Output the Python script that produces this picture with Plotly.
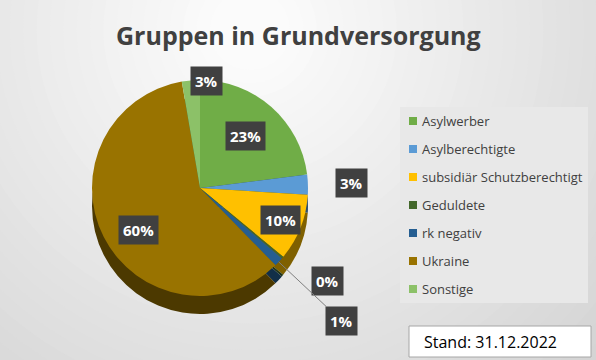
import math
import plotly.graph_objects as go

# ---------------- data ----------------
categories = ["Asylwerber", "Asylberechtigte", "subsidiär Schutzberechtigt",
              "Geduldete", "rk negativ", "Ukraine", "Sonstige"]
values = [23.0, 3.0, 10.0, 0.3, 1.4, 59.6, 2.7]
title_text = "Gruppen in Grundversorgung"
stand_text = "Stand: 31.12.2022"

# ---------------- style ----------------
colors = ["#70AD47", "#5B9BD5", "#FFC000", "#43682B", "#255E91", "#997300", "#8CC168"]
label_radius = [0.64, 1.40, 0.80, 1.55, 1.80, 0.85, 1.13]   # label distance factors
W, H = 596, 360
cx, cy, R = 200, 188, 108
depth = 18
FONT = "Open Sans"


def darken(hexc, f):
    hexc = hexc.lstrip("#")
    r, g, b = (int(hexc[i:i + 2], 16) for i in (0, 2, 4))
    return "#%02x%02x%02x" % (int(r * f), int(g * f), int(b * f))


def px(x):
    return x / W


def py(y):
    return 1 - y / H


fig = go.Figure()

# side (depth) of the pie
fig.add_trace(go.Pie(
    labels=categories, values=values, sort=False, direction="clockwise", rotation=0,
    marker=dict(colors=[darken(c, 0.5) for c in colors], line=dict(width=0)),
    textinfo="none", hoverinfo="skip", showlegend=False,
    domain=dict(x=[px(cx - R), px(cx + R)], y=[py(cy + depth + R), py(cy + depth - R)]),
))
# top face
fig.add_trace(go.Pie(
    labels=categories, values=values, sort=False, direction="clockwise", rotation=0,
    marker=dict(colors=colors, line=dict(width=0)),
    textinfo="none", showlegend=False,
    domain=dict(x=[px(cx - R), px(cx + R)], y=[py(cy + R), py(cy - R)]),
))

shapes = []
annotations = []

# radial background gradient
n = 40
gx, gy = 250, 30
for i in range(n):
    t = 1 - i / (n - 1)
    rad = 40 + 520 * t
    v = int(round(251 - (251 - 205) * t))
    col = "#%02x%02x%02x" % (v, v, v)
    shapes.append(dict(type="circle", xref="paper", yref="paper", layer="below",
                       x0=px(gx - rad), x1=px(gx + rad), y0=py(gy + rad), y1=py(gy - rad),
                       fillcolor=col, line=dict(width=0)))

# data labels
total = sum(values)
cum = 0
for i, v in enumerate(values):
    theta = math.radians(360 * (cum + v / 2) / total)
    cum += v
    k = label_radius[i]
    lx = cx + k * R * math.sin(theta)
    ly = cy - k * R * math.cos(theta)
    txt = "<b>%d%%</b>" % round(100 * v / total)
    common = dict(text=txt, font=dict(family=FONT, size=15, color="white"),
                  bgcolor="#404040", borderpad=4, xref="paper", yref="paper")
    if k > 1.6:
        ex = cx + R * math.sin(theta)
        ey = cy - R * math.cos(theta)
        annotations.append(dict(x=px(ex), y=py(ey), ax=lx - ex, ay=ly - ey,
                                showarrow=True, arrowhead=0, arrowwidth=1,
                                arrowcolor="#7f7f7f", **common))
    else:
        annotations.append(dict(x=px(lx), y=py(ly), showarrow=False, **common))

# legend box
shapes.append(dict(type="rect", xref="paper", yref="paper", layer="below",
                   x0=px(400), x1=px(588), y0=py(303), y1=py(107),
                   fillcolor="#e8e8e8", line=dict(width=0)))
for i, (cat, col) in enumerate(zip(categories, colors)):
    yc = 121 + 28 * i
    shapes.append(dict(type="rect", xref="paper", yref="paper",
                       x0=px(409), x1=px(417), y0=py(yc + 4), y1=py(yc - 4),
                       fillcolor=col, line=dict(width=0)))
    annotations.append(dict(x=px(420), y=py(yc), xref="paper", yref="paper",
                            xanchor="left", yanchor="middle", showarrow=False,
                            text=cat, font=dict(family=FONT, size=13, color="#404040")))

# title
annotations.append(dict(x=px(298), y=py(35), xref="paper", yref="paper", showarrow=False,
                        xanchor="center", yanchor="middle",
                        text="<b>%s</b>" % title_text,
                        font=dict(family=FONT, size=25, color="#404040")))

# Stand box
shapes.append(dict(type="rect", xref="paper", yref="paper",
                   x0=px(409), x1=px(591), y0=py(357), y1=py(326),
                   fillcolor="white", line=dict(width=1, color="#a6a6a6")))
annotations.append(dict(x=px(422), y=py(341.5), xref="paper", yref="paper", showarrow=False,
                        xanchor="left", yanchor="middle", text=stand_text,
                        font=dict(family=FONT, size=16, color="#000000")))

fig.update_layout(
    width=W, height=H, margin=dict(l=0, r=0, t=0, b=0),
    paper_bgcolor="#e0e0e0", plot_bgcolor="rgba(0,0,0,0)",
    shapes=shapes, annotations=annotations, showlegend=False,
)

fig.write_html("out.html", config={"displayModeBar": False},
               post_script="document.body.style.margin='0';")
